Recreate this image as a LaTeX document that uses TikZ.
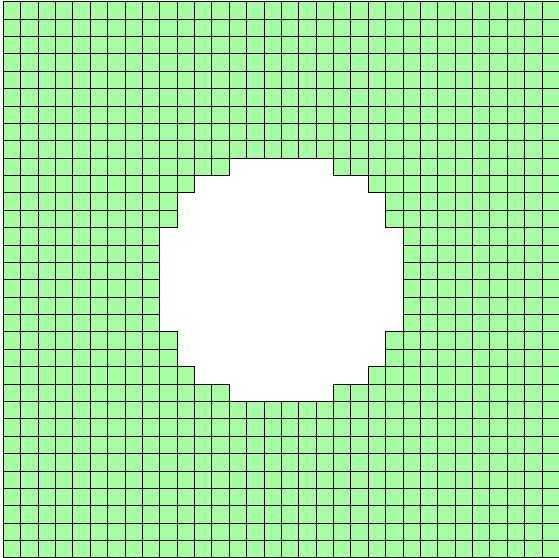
\documentclass[tikz,border=0pt]{standalone}
\definecolor{cellgreen}{RGB}{166,255,160}
\tikzset{gridcell/.style={fill=cellgreen,draw=black,line width=0.7pt}}
\begin{document}
\begin{tikzpicture}[x=1pt,y=-1pt]
\useasboundingbox (0,0) rectangle (559,557);
\def\s{17.38}
\def\xo{3.2}
\def\yo{1.6}
\foreach \i in {0,...,31}{
  \foreach \j in {0,...,31}{
    \pgfmathtruncatemacro\h{((abs(\i-15.5)<=6.5) && (abs(\j-15.5)<=2.5)) || ((abs(\i-15.5)<=5.5) && (abs(\j-15.5)<=4.5)) || ((abs(\i-15.5)<=4.5) && (abs(\j-15.5)<=5.5)) || ((abs(\i-15.5)<=2.5) && (abs(\j-15.5)<=6.5)) ? 1 : 0}
    \ifnum\h=0
      \path[gridcell] ({\xo+\i*\s},{\yo+\j*\s}) rectangle +(\s,\s);
    \fi
  }
}
\end{tikzpicture}
\end{document}
